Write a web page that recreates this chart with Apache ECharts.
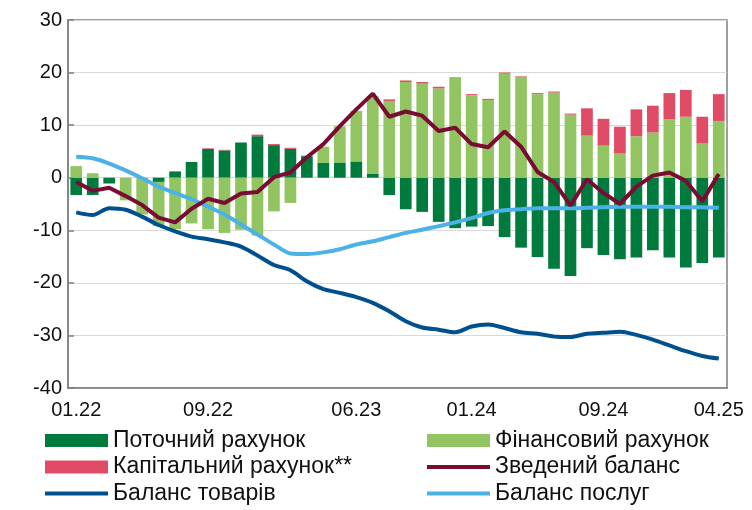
<!DOCTYPE html>
<html>
<head>
<meta charset="utf-8">
<script src="https://cdn.jsdelivr.net/npm/echarts@6/dist/echarts.min.js"></script>
<style>
  html, body { margin: 0; padding: 0; background: #fff; }
  #chart { width: 752px; height: 510px; }
</style>
</head>
<body>
<div id="chart"></div>
<script>
// місяці 01.22 - 04.25
var months = [
  '01.22','02.22','03.22','04.22','05.22','06.22','07.22','08.22','09.22','10.22','11.22','12.22',
  '01.23','02.23','03.23','04.23','05.23','06.23','07.23','08.23','09.23','10.23','11.23','12.23',
  '01.24','02.24','03.24','04.24','05.24','06.24','07.24','08.24','09.24','10.24','11.24','12.24',
  '01.25','02.25','03.25','04.25'
];
// підписи осі X
var tickLabels = ['01.22', '09.22', '06.23', '01.24', '09.24', '04.25'];

var currentAcc = [
  -3.3, -3.3, -1.1, 0, 0, -0.8, 1.1, 3.0, 5.5, 5.2, 6.7, 7.9,
  6.2, 5.5, 4.1, 2.8, 2.9, 3.1, 0.8, -3.3, -6.0, -6.5, -8.4, -9.6,
  -9.3, -9.2, -11.3, -13.3, -15.1, -17.3, -18.7, -13.4, -14.7, -15.5, -15.2, -13.8,
  -15.2, -17.1, -16.2, -15.2
];
var financialAcc = [
  2.2, 0.7, 0, -4.3, -7.0, -8.4, -9.8, -8.7, -9.8, -10.5, -9.9, -11.0,
  -6.4, -4.8, 0, 3.1, 6.9, 9.6, 14.7, 14.6, 18.2, 17.9, 17.0, 19.0,
  15.7, 14.8, 19.8, 19.2, 15.9, 16.2, 12.0, 8.0, 6.1, 4.6, 7.9, 8.6,
  11.1, 11.6, 6.5, 10.8
];
var capitalAcc = [
  0, 0.1, 0, 0, 0, 0, 0.15, 0, 0.1, 0.1, 0, 0.3,
  0.2, 0.2, 0.1, 0, 0, 0, 0, 0.3, 0.3, 0.3, 0.3, 0.1,
  0.2, 0.2, 0.2, 0.1, 0.2, 0.2, 0.2, 5.2, 5.1, 5.1, 5.1, 5.1,
  5.0, 5.1, 5.1, 5.1
];
var totalBalance = [
  -0.8, -2.5, -1.9, -3.5, -5.2, -7.6, -8.5, -5.9, -4.0, -4.8, -3.0, -2.7,
  0.1, 1.0, 3.9, 6.4, 9.8, 13.0, 16.0, 11.6, 12.6, 11.8, 8.9, 9.5,
  6.4, 5.8, 8.8, 5.9, 1.1, -0.8, -5.3, -0.3, -2.9, -5.0, -1.7, 0.4,
  1.0, -0.6, -4.5, 0.7
];
var goodsBalance = [
  -6.6, -7.1, -5.8, -6.1, -7.4, -9.0, -10.2, -11.2, -11.7, -12.3, -13.1, -14.8,
  -16.6, -17.6, -19.7, -21.2, -21.9, -22.7, -23.8, -25.4, -27.3, -28.5, -28.9, -29.4,
  -28.3, -27.9, -28.6, -29.4, -29.7, -30.2, -30.3, -29.7, -29.5, -29.3, -29.9, -30.8,
  -31.9, -33.0, -33.9, -34.4
];
var servicesBalance = [
  4.0, 3.7, 2.7, 1.4, -0.1, -1.7, -2.9, -4.1, -5.5, -7.0, -8.9, -10.8,
  -12.7, -14.4, -14.5, -14.2, -13.6, -12.7, -12.1, -11.3, -10.5, -9.9, -9.2, -8.5,
  -7.7, -6.7, -6.2, -6.0, -5.8, -5.8, -5.8, -5.7, -5.6, -5.5, -5.5, -5.5,
  -5.5, -5.6, -5.6, -5.7
];

var chart = echarts.init(document.getElementById('chart'));
var font = 'Liberation Sans, Arial, sans-serif';
var lineIcon = 'path://M0,0 L60,0 L60,4 L0,4 Z';
var legendText = { fontSize: 23, color: '#111', lineHeight: 23, fontFamily: font };

var option = {
  animation: false,
  textStyle: { fontFamily: font },
  grid: {
    left: 68, right: 25, top: 20, bottom: 122,
    show: true, borderColor: '#7f7f7f', borderWidth: 1.5
  },
  legend: [{
    orient: 'vertical', left: 45, top: 429, height: 81, padding: 0,
    itemWidth: 63, itemHeight: 13, itemGap: 3.5,
    textStyle: legendText,
    data: [
      { name: 'Поточний рахунок', icon: 'rect' },
      { name: 'Капітальний рахунок**', icon: 'rect' },
      { name: 'Баланс товарів', icon: lineIcon }
    ]
  }, {
    orient: 'vertical', left: 427, top: 429, height: 81, padding: 0,
    itemWidth: 63, itemHeight: 13, itemGap: 3.5,
    textStyle: legendText,
    data: [
      { name: 'Фінансовий рахунок', icon: 'rect' },
      { name: 'Зведений баланс', icon: lineIcon },
      { name: 'Баланс послуг', icon: lineIcon }
    ]
  }],
  xAxis: {
    type: 'category',
    data: months,
    axisLine: { onZero: false, lineStyle: { color: '#7f7f7f', width: 1.5 } },
    axisTick: { interval: 2, inside: true, length: 6, lineStyle: { color: '#7f7f7f', width: 1.5 } },
    axisLabel: {
      fontSize: 20, color: '#111', margin: 12,
      interval: function (idx, val) { return tickLabels.indexOf(val) >= 0; }
    },
    splitLine: { show: false }
  },
  yAxis: {
    type: 'value',
    min: -40, max: 30, interval: 10,
    axisLine: { show: true, lineStyle: { color: '#7f7f7f', width: 1.5 } },
    axisTick: { show: true, inside: true, length: 6, lineStyle: { color: '#7f7f7f', width: 1.5 } },
    axisLabel: { fontSize: 20, color: '#111', margin: 6 },
    splitLine: { lineStyle: { color: '#d9d9d9', width: 1 } }
  },
  series: [
    { name: 'Поточний рахунок', type: 'bar', stack: 'acc', barCategoryGap: '29%',
      itemStyle: { color: '#007a3d' }, data: currentAcc },
    { name: 'Фінансовий рахунок', type: 'bar', stack: 'acc',
      itemStyle: { color: '#92c562' }, data: financialAcc },
    { name: 'Капітальний рахунок**', type: 'bar', stack: 'acc',
      itemStyle: { color: '#e04c66' }, data: capitalAcc },
    { name: 'Зведений баланс', type: 'line', symbol: 'none', z: 5,
      itemStyle: { color: '#7a0c34' }, lineStyle: { color: '#7a0c34', width: 4 },
      data: totalBalance },
    { name: 'Баланс товарів', type: 'line', symbol: 'none', smooth: 0.3, z: 4,
      itemStyle: { color: '#00508f' }, lineStyle: { color: '#00508f', width: 4 },
      data: goodsBalance },
    { name: 'Баланс послуг', type: 'line', symbol: 'none', smooth: 0.3, z: 4,
      itemStyle: { color: '#4bb2e8' }, lineStyle: { color: '#4bb2e8', width: 4 },
      data: servicesBalance }
  ]
};

chart.setOption(option);
</script>
</body>
</html>
